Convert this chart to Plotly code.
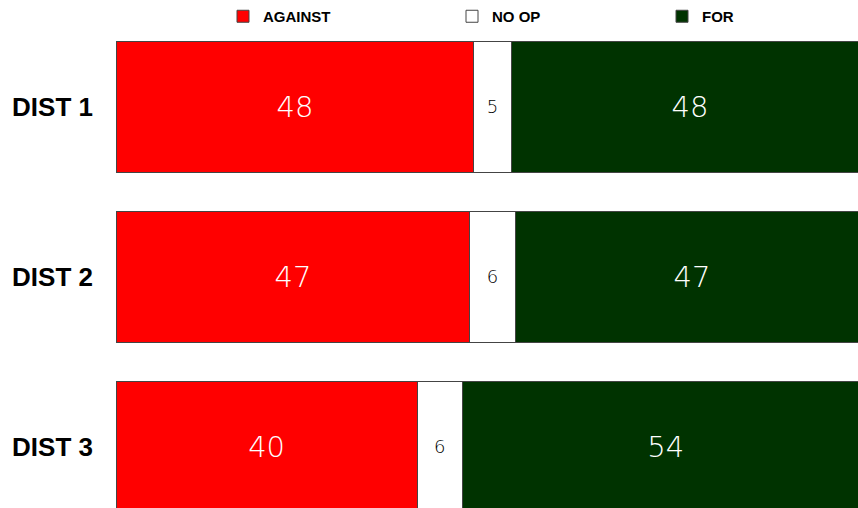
import plotly.graph_objects as go

categories = ["DIST 1", "DIST 2", "DIST 3"]
against = [48, 47, 40]
no_op = [5, 6, 6]
for_vals = [48, 47, 54]

W, H = 858, 508
line = dict(color="#444444", width=1)
big_font = dict(family="DejaVu Sans", size=29, color="white", weight=200)
small_font = dict(family="DejaVu Sans", size=18, color="black", weight=300)
legend_font = dict(family="Liberation Sans", size=15, color="black", weight="bold")

fig = go.Figure()
fig.add_bar(name="AGAINST", y=categories, x=against, orientation="h",
            marker=dict(color="#FF0000", line=line), text=against,
            textposition="inside", insidetextanchor="middle", textangle=0,
            textfont=big_font, hoverinfo="skip", legend="legend")
fig.add_bar(name="NO OP", y=categories, x=no_op, orientation="h",
            marker=dict(color="#FFFFFF", line=line), text=no_op,
            textposition="inside", insidetextanchor="middle", textangle=0,
            textfont=small_font, hoverinfo="skip", legend="legend2")
fig.add_bar(name="FOR", y=categories, x=for_vals, orientation="h",
            marker=dict(color="#003300", line=line), text=for_vals,
            textposition="inside", insidetextanchor="middle", textangle=0,
            textfont=big_font, hoverinfo="skip", legend="legend3")


def leg(xpx):
    return dict(orientation="h", xref="container", yref="container",
                x=xpx / W, y=1, xanchor="left", yanchor="top",
                font=legend_font, itemwidth=30, bgcolor="rgba(0,0,0,0)")


fig.update_layout(
    width=W, height=H,
    barmode="stack", barnorm="percent", bargap=0.23,
    margin=dict(l=116, r=0, t=22, b=0, autoexpand=False),
    paper_bgcolor="white", plot_bgcolor="white",
    showlegend=True,
    legend=leg(223),
    legend2=leg(452),
    legend3=leg(662),
    xaxis=dict(range=[0, 98.55], visible=False, fixedrange=True),
    yaxis=dict(range=[2.362, -0.5], showgrid=False, zeroline=False, showline=False,
               ticks="", ticklabelstandoff=22, automargin=False,
               tickfont=dict(family="Liberation Sans", size=26, color="black", weight="bold"),
               fixedrange=True),
)

post = "document.body.style.margin='0';"
fig.write_html("out.html", config={"displayModeBar": False}, post_script=post)
